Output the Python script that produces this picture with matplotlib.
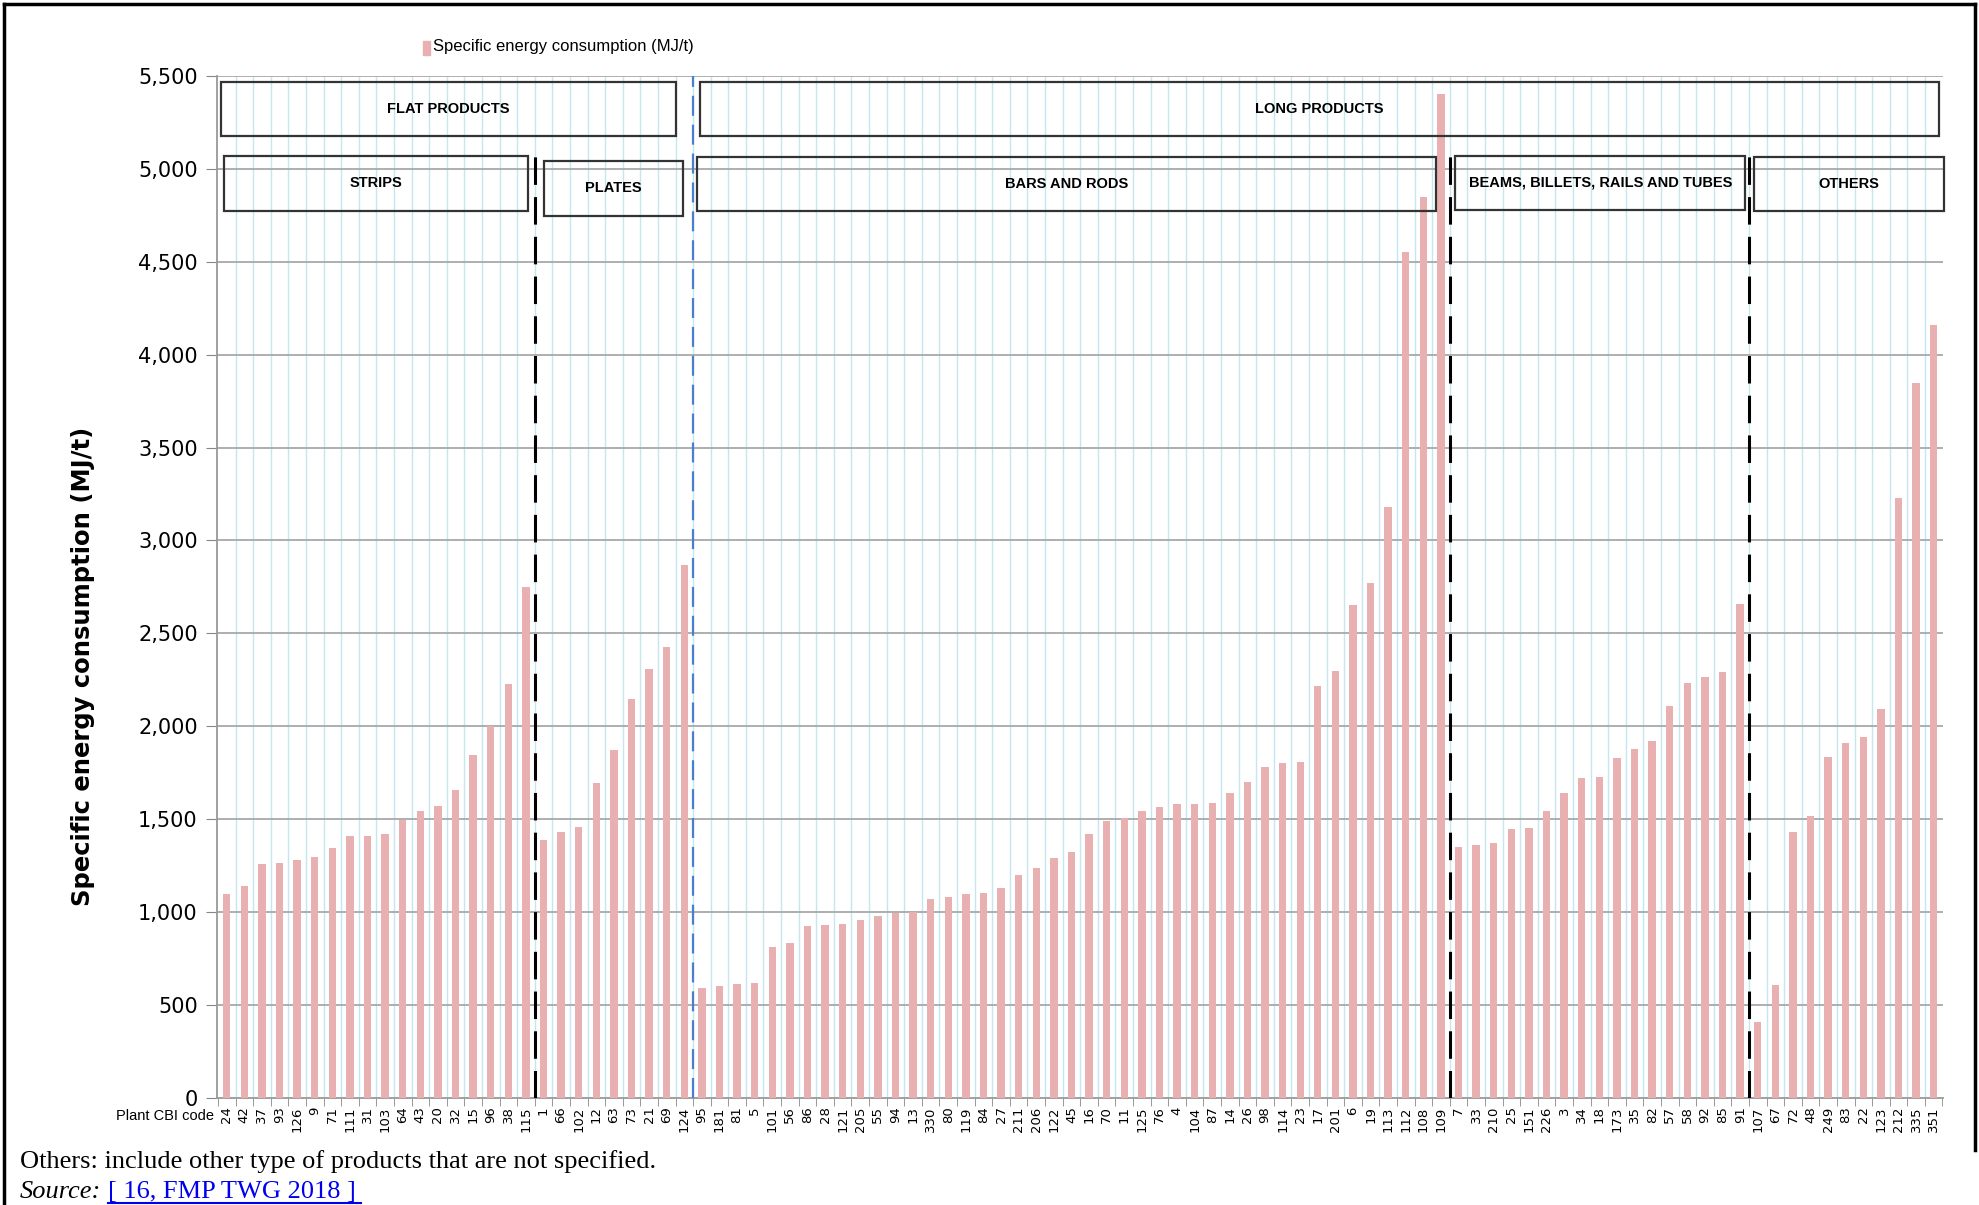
import numpy as np
import matplotlib
matplotlib.use("Agg")
import matplotlib.pyplot as plt
from matplotlib.patches import Rectangle
from matplotlib.lines import Line2D

# plant codes and specific energy consumption (MJ/t), per product group
strips_codes = ["24", "42", "37", "93", "126", "9", "71", "111", "31", "103",
                "64", "43", "20", "32", "15", "96", "38", "115"]
strips_vals = [1100, 1140, 1260, 1265, 1280, 1295, 1345, 1410, 1410, 1420,
               1495, 1545, 1570, 1660, 1845, 2000, 2230, 2750]

plates_codes = ["1", "66", "102", "12", "63", "73", "21", "69", "124"]
plates_vals = [1390, 1430, 1460, 1695, 1875, 2145, 2310, 2425, 2870]

bars_codes = ["95", "181", "81", "5", "101", "56", "86", "28", "121", "205",
              "55", "94", "13", "330", "80", "119", "84", "27", "211", "206",
              "122", "45", "16", "70", "11", "125", "76", "4", "104", "87",
              "14", "26", "98", "114", "23", "17", "201", "6", "19", "113",
              "112", "108", "109"]
bars_vals = [590, 605, 615, 620, 815, 835, 925, 930, 935, 960,
             980, 995, 1000, 1070, 1080, 1100, 1105, 1130, 1200, 1235,
             1290, 1325, 1420, 1490, 1505, 1545, 1565, 1580, 1580, 1590,
             1640, 1700, 1780, 1805, 1810, 2215, 2300, 2655, 2770, 3180,
             4550, 4850, 5400]

beams_codes = ["7", "33", "210", "25", "151", "226", "3", "34", "18", "173",
               "35", "82", "57", "58", "92", "85", "91"]
beams_vals = [1350, 1360, 1370, 1445, 1455, 1545, 1640, 1720, 1730, 1830,
              1880, 1920, 2110, 2235, 2265, 2290, 2660]

others_codes = ["107", "67", "72", "48", "249", "83", "22", "123", "212", "335", "351"]
others_vals = [410, 610, 1430, 1515, 1835, 1910, 1940, 2095, 3230, 3850, 4160]

codes = strips_codes + plates_codes + bars_codes + beams_codes + others_codes
values = strips_vals + plates_vals + bars_vals + beams_vals + others_vals

bar_color = "#e8b0b0"
narrow = ["Liberation Sans", "DejaVu Sans"]
serif = ["Liberation Serif", "DejaVu Serif"]

fig = plt.figure(figsize=(19.79, 12.05), dpi=100)
ax = fig.add_axes([0.1097, 0.0888, 0.8723, 0.8482])

x = np.arange(len(codes))
ax.bar(x, values, width=0.42, color=bar_color, zorder=3)

ax.set_xlim(-0.55, len(codes) - 0.45)
ax.set_ylim(0, 5500)
ax.set_yticks(np.arange(0, 5501, 500))
ax.set_yticklabels([f"{v:,}" for v in range(0, 5501, 500)], fontsize=15)
ax.set_xticks(x)
ax.set_xticklabels(codes, rotation=90, fontsize=9.5)
ax.set_xticks(np.arange(-0.5, len(codes), 1.0), minor=True)
ax.tick_params(axis="x", which="major", length=0, pad=6)
ax.tick_params(axis="x", which="minor", length=6, color="#888888")
ax.tick_params(axis="y", length=8, color="#888888", pad=6)

ax.grid(False)
for yv in range(500, 5501, 500):
    ax.axhline(yv, color="#a8a8a8", lw=1.3, zorder=1)
for xv in np.arange(0.5, len(codes) - 1, 1.0):
    ax.axvline(xv, color="#c6e6ef", lw=1.0, zorder=0)

for s in ["top", "right"]:
    ax.spines[s].set_visible(False)
ax.spines["left"].set_color("#999999")
ax.spines["bottom"].set_color("#999999")
ax.spines["left"].set_linewidth(1.3)
ax.spines["bottom"].set_linewidth(1.3)

ax.set_ylabel("Specific energy consumption (MJ/t)", fontsize=17.5, fontweight="bold")
ax.yaxis.set_label_coords(-0.0705, 0.422)

# group boundaries
n1 = len(strips_codes)
n2 = n1 + len(plates_codes)
n3 = n2 + len(bars_codes)
n4 = n3 + len(beams_codes)
n5 = n4 + len(others_codes)

ax.plot([n2 - 0.5, n2 - 0.5], [0, 5500], color="#4a7fd0", lw=1.6,
        dashes=(9, 4), zorder=4)
for b in [n1, n3, n4]:
    ax.plot([b - 0.5, b - 0.5], [0, 5070], color="black", lw=2.2,
            dashes=(9, 4), zorder=4)

boxes = [
    ("FLAT PRODUCTS", -0.3, n2 - 1.5, 5175, 5465),
    ("LONG PRODUCTS", n2 - 0.1, n5 - 0.7, 5175, 5465),
    ("STRIPS", -0.15, n1 - 0.9, 4773, 5071),
    ("PLATES", n1 + 0.0, n2 - 1.1, 4745, 5044),
    ("BARS AND RODS", n2 - 0.25, n3 - 1.3, 4773, 5064),
    ("BEAMS, BILLETS, RAILS AND TUBES", n3 - 0.2, n4 - 0.7, 4780, 5071),
    ("OTHERS", n4 - 0.2, n5 - 0.4, 4773, 5064),
]
for label, x0, x1, y0, y1 in boxes:
    ax.add_patch(Rectangle((x0, y0), x1 - x0, y1 - y0, facecolor="none",
                           edgecolor="#333333", lw=1.6, zorder=5, clip_on=False))
    ax.text((x0 + x1) / 2, (y0 + y1) / 2, label, ha="center", va="center",
            fontsize=10.5, fontweight="bold", family=narrow, zorder=6)

ax.text(-0.75, -60, "Plant CBI code", ha="right", va="top", fontsize=10.5,
        family=narrow)

# legend
fig.patches.append(Rectangle((423 / 1979, 1 - 55 / 1205), 7 / 1979, 14 / 1205,
                             transform=fig.transFigure, color=bar_color))
fig.text(433 / 1979, 1 - 47 / 1205, "Specific energy consumption (MJ/t)",
         ha="left", va="center", fontsize=12, family=narrow)

# outer frame
frame = [((4, 4), (1975, 4)), ((4, 4), (4, 1205)), ((1975, 4), (1975, 1150))]
for (xa, ya), (xb, yb) in frame:
    fig.add_artist(Line2D([xa / 1979, xb / 1979], [1 - ya / 1205, 1 - yb / 1205],
                          color="black", lw=2.5, transform=fig.transFigure))

fig.text(20 / 1979, 1 - 1162 / 1205,
         "Others: include other type of products that are not specified.",
         ha="left", va="center", fontsize=19, family=serif)
fig.text(20 / 1979, 1 - 1192 / 1205, "Source:", ha="left", va="center",
         fontsize=19, family=serif, style="italic")
fig.text(108 / 1979, 1 - 1192 / 1205, "[ 16, FMP TWG 2018 ]", ha="left",
         va="center", fontsize=19, family=serif, color="#0000ee")
fig.add_artist(Line2D([108 / 1979, 361 / 1979], [1 - 1203 / 1205, 1 - 1203 / 1205],
                      color="#0000ee", lw=1.5, transform=fig.transFigure))

fig.savefig("out.png", dpi=100, facecolor="white")
